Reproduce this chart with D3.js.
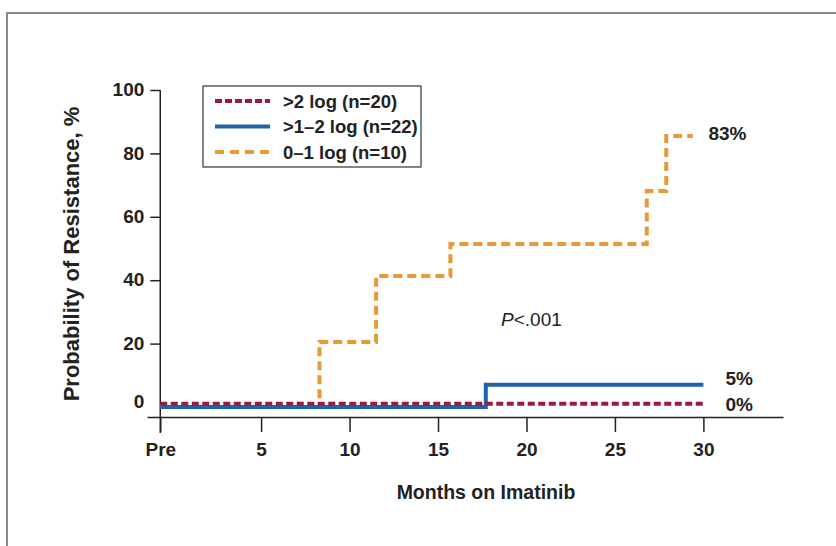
<!DOCTYPE html>
<html>
<head>
<meta charset="utf-8">
<script src="https://cdn.jsdelivr.net/npm/d3@7"></script>
<style>
  body { margin: 0; background: #fff; }
  svg text { font-family: "Liberation Sans", Arial, sans-serif; fill: #222; }
</style>
</head>
<body>
<svg id="chart" width="836" height="546"></svg>
<script>
// "Pre" sits a little left of month 0
const preMonth = -0.7;
const xTickValues = [preMonth, 5, 10, 15, 20, 25, 30];
const xTickLabels = ["Pre", "5", "10", "15", "20", "25", "30"];
const yTickValues = [0, 20, 40, 60, 80, 100];

// step curves: month where each level starts
const redMonths = [preMonth, 30.1];
const redValues = [1, 1];
const blueMonths = [preMonth, 17.7, 30];
const blueValues = [0, 7, 7];
const orangeMonths = [preMonth, 8.3, 11.5, 15.7, 26.8, 27.9, 29.4];
const orangeValues = [0, 20.5, 41.3, 51.4, 68.1, 85.5, 85.5];

const seriesNames = [">2 log (n=20)", ">1–2 log (n=22)", "0–1 log (n=10)"];
const endLabels = ["0%", "5%", "83%"];

const colors = { red: "#9c1a40", blue: "#1f64a6", orange: "#e79a33" };

const svg = d3.select("#chart");

// outer frame (runs off the right and bottom edges)
svg.append("rect")
  .attr("x", 7).attr("y", 13)
  .attr("width", 900).attr("height", 600)
  .attr("fill", "none")
  .attr("stroke", "#8a8a8a")
  .attr("stroke-width", 2);

const x = d3.scaleLinear().domain([-1.45, 34.5]).range([147, 783]);
const y = d3.scaleLinear().domain([0, 100]).range([407, 90]);
const axisY = y(0) + 10;

// x axis
const xAxis = svg.append("g")
  .attr("transform", `translate(0,${axisY})`)
  .call(d3.axisBottom(x)
    .tickValues(xTickValues)
    .tickFormat((d, i) => xTickLabels[i])
    .tickSize(15)
    .tickSizeOuter(0)
    .tickPadding(11));
xAxis.select(".domain").attr("stroke", "#222").attr("stroke-width", 1.5);
xAxis.selectAll(".tick line").attr("stroke", "#222").attr("stroke-width", 1.5);
xAxis.selectAll("text").attr("font-size", 19).attr("font-weight", "bold").attr("fill", "#222");

// y axis
const yAxis = svg.append("g")
  .attr("transform", `translate(${x(preMonth)},0)`)
  .call(d3.axisLeft(y)
    .tickValues(yTickValues)
    .tickSize(10)
    .tickSizeOuter(0)
    .tickPadding(6));
yAxis.select(".domain").remove();
yAxis.append("line")
  .attr("x1", 0).attr("x2", 0)
  .attr("y1", y(100)).attr("y2", axisY + 16)
  .attr("stroke", "#222").attr("stroke-width", 1.5);
yAxis.selectAll(".tick line").attr("stroke", "#222").attr("stroke-width", 1.5)
  .attr("opacity", d => d === 0 ? 0 : 1);
yAxis.selectAll("text")
  .attr("font-size", 19).attr("font-weight", "bold").attr("fill", "#222")
  .attr("dy", d => d === 0 ? "0" : "0.3em");

// axis titles
svg.append("text")
  .attr("x", 486).attr("y", 499)
  .attr("text-anchor", "middle")
  .attr("font-size", 19.5).attr("font-weight", "bold")
  .text("Months on Imatinib");

svg.append("text")
  .attr("transform", `translate(79,254) rotate(-90)`)
  .attr("text-anchor", "middle")
  .attr("font-size", 22).attr("font-weight", "bold")
  .text("Probability of Resistance, %");

// curves
const line = d3.line()
  .x(d => x(d[0]))
  .y(d => y(d[1]))
  .curve(d3.curveStepAfter);

const series = [
  { key: "orange", months: orangeMonths, values: orangeValues, dash: "9,5" },
  { key: "blue", months: blueMonths, values: blueValues, dash: null },
  { key: "red", months: redMonths, values: redValues, dash: "7,3.5" }
];

series.forEach(s => {
  svg.append("path")
    .datum(s.months.map((m, i) => [m, s.values[i]]))
    .attr("d", line)
    .attr("fill", "none")
    .attr("stroke", colors[s.key])
    .attr("stroke-width", 4)
    .attr("stroke-dasharray", s.dash);
});

// end-of-curve labels
const endLast = arr => arr[arr.length - 1];
svg.append("text")
  .attr("x", x(30) + 22).attr("y", y(endLast(redValues)) + 7)
  .attr("font-size", 19).attr("font-weight", "bold")
  .text(endLabels[0]);
svg.append("text")
  .attr("x", x(30) + 22).attr("y", y(endLast(blueValues)))
  .attr("font-size", 19).attr("font-weight", "bold")
  .text(endLabels[1]);
svg.append("text")
  .attr("x", x(30) + 5).attr("y", y(endLast(orangeValues)) + 4)
  .attr("font-size", 19).attr("font-weight", "bold")
  .text(endLabels[2]);

// P value
const pText = svg.append("text")
  .attr("x", 501).attr("y", 326)
  .attr("font-size", 19);
pText.append("tspan").attr("font-style", "italic").text("P");
pText.append("tspan").text("<.001");

// legend
const legend = svg.append("g").attr("transform", "translate(203,86)");
legend.append("rect")
  .attr("width", 218).attr("height", 81)
  .attr("fill", "#fff")
  .attr("stroke", "#333").attr("stroke-width", 1.2);

const legendKeys = ["red", "blue", "orange"];
const legendDash = { red: "7,3", blue: null, orange: "9,6" };
legendKeys.forEach((k, i) => {
  const row = legend.append("g").attr("transform", `translate(0,${15 + i * 25.5})`);
  row.append("line")
    .attr("x1", 12).attr("x2", 67)
    .attr("stroke", colors[k])
    .attr("stroke-width", 4)
    .attr("stroke-dasharray", legendDash[k]);
  row.append("text")
    .attr("x", 80).attr("y", 6.5)
    .attr("font-size", 18.5).attr("font-weight", "bold")
    .text(seriesNames[i]);
});
</script>
</body>
</html>
